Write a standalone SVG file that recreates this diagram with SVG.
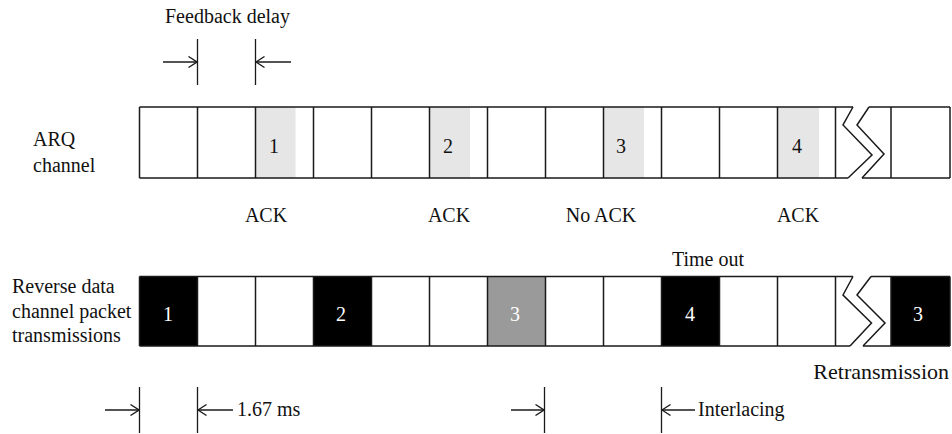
<svg xmlns="http://www.w3.org/2000/svg" width="952" height="434" viewBox="0 0 952 434">
<style>
text{font-family:"Liberation Serif","Times New Roman",serif;font-size:20px;fill:#111}
.w{fill:#fff}
.c{text-anchor:middle}
.ln{stroke:#1a1a1a;stroke-width:1.5;fill:none}
.ar{stroke:#1a1a1a;stroke-width:1.3;fill:none}
</style>
<defs>
<marker id="ah" viewBox="0 0 10 12" refX="9.5" refY="6" markerWidth="10" markerHeight="12" markerUnits="userSpaceOnUse" orient="auto">
<path d="M1,0.5 L9.5,6 L1,11.5" fill="none" stroke="#1a1a1a" stroke-width="1.3"/>
</marker>
</defs>
<rect width="952" height="434" fill="#fff"/>

<text x="165" y="23">Feedback delay</text>

<g id="arq-label"><text x="33" y="146">ARQ</text><text x="33" y="172">channel</text></g>

<g id="arq-channel">
<rect x="255.5" y="107" width="40" height="71" fill="#e6e6e6"/>
<rect x="429.5" y="107" width="40.5" height="71" fill="#e6e6e6"/>
<rect x="603.5" y="107" width="40.5" height="71" fill="#e6e6e6"/>
<rect x="777.5" y="107" width="41.5" height="71" fill="#e6e6e6"/>
<path class="ln" d="M139.5,107 H853 M869,107 H950 M139.5,178 H848 M862,178 H950"/>
<path class="ln" d="M139.5,107 V178 M197.5,107 V178 M255.5,107 V178 M313.5,107 V178 M371.5,107 V178 M429.5,107 V178 M487.5,107 V178 M545.5,107 V178 M603.5,107 V178 M661.5,107 V178 M719.5,107 V178 M777.5,107 V178 M835.5,107 V178 M891,107 V178 M950,107 V178"/>
<path class="ln" d="M853,107 L843,125 L872,155 L848,178 M869,107 L857,125 L884,154 L862,178"/>
<text x="274" y="153" class="c">1</text>
<text x="448" y="153" class="c">2</text>
<text x="621" y="153" class="c">3</text>
<text x="797" y="153" class="c">4</text>
</g>

<g id="ack-labels">
<text x="266" y="222" class="c">ACK</text>
<text x="449" y="222" class="c">ACK</text>
<text x="601" y="222" class="c">No ACK</text>
<text x="798" y="222" class="c">ACK</text>
</g>

<text x="708" y="266" class="c">Time out</text>

<g id="rev-label"><text x="12" y="293">Reverse data</text><text x="12" y="318">channel packet</text><text x="12" y="342">transmissions</text></g>

<g id="reverse-channel">
<rect x="139.5" y="276.5" width="58" height="69.5" fill="#000"/>
<rect x="313.5" y="276.5" width="58" height="69.5" fill="#000"/>
<rect x="487.5" y="276.5" width="58" height="69.5" fill="#9a9a9a"/>
<rect x="661.5" y="276.5" width="58" height="69.5" fill="#000"/>
<rect x="891" y="276.5" width="59" height="69.5" fill="#000"/>
<path class="ln" d="M139.5,276.5 H853 M871,276.5 H950 M139.5,346 H850 M863,346 H950"/>
<path class="ln" d="M139.5,276.5 V346 M197.5,276.5 V346 M255.5,276.5 V346 M313.5,276.5 V346 M371.5,276.5 V346 M429.5,276.5 V346 M487.5,276.5 V346 M545.5,276.5 V346 M603.5,276.5 V346 M661.5,276.5 V346 M719.5,276.5 V346 M777.5,276.5 V346 M835.5,276.5 V346 M891,276.5 V346 M950,276.5 V346"/>
<path class="ln" d="M853,276.5 L843,295 L871.5,323 L850,346 M871,276.5 L857,295 L885,323 L863,346"/>
<text x="168" y="321" class="c w">1</text>
<text x="341" y="321" class="c w">2</text>
<text x="515" y="321" class="c w">3</text>
<text x="690" y="321" class="c w">4</text>
<text x="918" y="321" class="c w">3</text>
</g>

<text x="949" y="379" text-anchor="end" style="font-size:22px">Retransmission</text>

<g id="connectors">
<path class="ar" d="M197.5,39 V85 M255.5,39 V85"/>
<path class="ar" d="M163,62 H197" marker-end="url(#ah)"/>
<path class="ar" d="M291,62 H256" marker-end="url(#ah)"/>
<path class="ar" d="M139.5,387 V433 M197.5,387 V433 M544.5,387 V433 M661.5,387 V433"/>
<path class="ar" d="M105,410 H139" marker-end="url(#ah)"/>
<path class="ar" d="M233,410 H198" marker-end="url(#ah)"/>
<path class="ar" d="M511,410 H544" marker-end="url(#ah)"/>
<path class="ar" d="M695,410 H662" marker-end="url(#ah)"/>
</g>
<text x="237" y="416">1.67 ms</text>
<text x="698" y="416">Interlacing</text>
</svg>
